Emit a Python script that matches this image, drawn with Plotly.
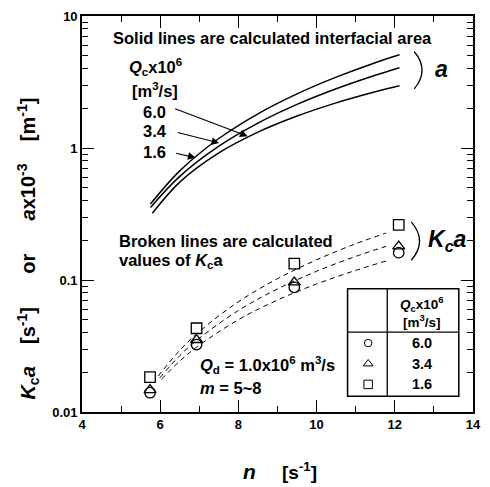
import plotly.graph_objects as go

# ---------------- data ----------------
# solid lines: calculated interfacial area a x10^-3 [m^-1]  (Qc = 1.6, 3.4, 6.0 x10^-6 m3/s)
a_x = [5.75, 6.5, 7.5, 8.5, 9.5, 10.5, 11.5, 12.12]
a_y_16 = [0.376, 0.671, 1.180, 1.816, 2.57, 3.44, 4.43, 5.08]
a_y_34 = [0.354, 0.610, 1.033, 1.545, 2.14, 2.81, 3.56, 4.06]
a_x_60 = [5.8, 6.5, 7.5, 8.5, 9.5, 10.5, 11.5, 12.12]
a_y_60 = [0.320, 0.551, 0.917, 1.318, 1.746, 2.198, 2.667, 2.965]

# broken lines: calculated Kc a
k_x_16 = [5.95, 6.5, 7.0, 8.0, 9.0, 10.0, 11.0, 11.78]
k_y_16 = [0.0187, 0.0293, 0.0407, 0.0684, 0.1023, 0.1422, 0.188, 0.227]
k_x_34 = [5.99, 6.5, 7.0, 8.0, 9.0, 10.0, 11.0, 11.78]
k_y_34 = [0.01815, 0.0267, 0.0362, 0.0587, 0.0855, 0.1164, 0.151, 0.180]
k_x_60 = [6.03, 6.5, 7.0, 8.0, 9.0, 10.0, 11.0, 11.78]
k_y_60 = [0.01766, 0.0243, 0.0321, 0.0500, 0.0705, 0.0933, 0.1183, 0.1393]

# measured Kc a
n_meas = [5.74, 6.93, 9.43, 12.1]
kca_16 = [0.0184, 0.0431, 0.133, 0.262]   # square
kca_34 = [0.0147, 0.0352, 0.096, 0.180]   # triangle
kca_60 = [0.0140, 0.0324, 0.088, 0.161]   # circle

x_ticks = [4, 6, 8, 10, 12, 14]
y_ticks = [0.01, 0.1, 1, 10]
y_ticktext = ["0.01", "0.1", "1", "10"]
legend_labels = ["6.0", "3.4", "1.6"]

# ---------------- geometry helpers ----------------
W, H = 490, 487
L, R, T, B = 82, 9, 10, 75
PW, PH = W - L - R, H - T - B


def xp(px):
    return (px - L) / PW


def yp(py):
    return (H - B - py) / PH


def dx(px):
    return 4 + (px - L) / PW * 10


def dy(py):
    return 10 ** (1 - (py - T) / PH * 3)


FONT = "Liberation Sans, Arial, sans-serif"
NB = "&nbsp;"
fig = go.Figure()

for xs, ys in [(a_x, a_y_16), (a_x, a_y_34), (a_x_60, a_y_60)]:
    fig.add_trace(go.Scatter(x=xs, y=ys, mode="lines", line=dict(color="black", width=1.5, shape="spline"),
                             showlegend=False, hoverinfo="skip"))
for xs, ys in [(k_x_16, k_y_16), (k_x_34, k_y_34), (k_x_60, k_y_60)]:
    fig.add_trace(go.Scatter(x=xs, y=ys, mode="lines",
                             line=dict(color="black", width=1, dash="5px,4px", shape="spline"),
                             showlegend=False, hoverinfo="skip"))

for ys, sym in [(kca_60, "circle-open"), (kca_34, "triangle-up-open"), (kca_16, "square-open")]:
    fig.add_trace(go.Scatter(x=n_meas, y=ys, mode="markers",
                             marker=dict(symbol=sym, size=10.5, color="black", line=dict(width=1.3, color="black")),
                             showlegend=False))

# legend keys inside table
for py, sym, sz in [(342, "circle-open", 7.5), (363, "triangle-up-open", 8.5), (384, "square-open", 8.5)]:
    fig.add_trace(go.Scatter(x=[dx(374)], y=[dy(py)], mode="markers",
                             marker=dict(symbol=sym, size=sz, color="black", line=dict(width=1, color="black")),
                             showlegend=False, hoverinfo="skip"))

ann = []


def txt(px, py, text, size=16.5, xanchor="center", italic=False, angle=0):
    ann.append(dict(x=xp(px), y=yp(py), xref="paper", yref="paper", text=text, showarrow=False,
                    xanchor=xanchor, yanchor="middle", textangle=angle,
                    font=dict(family=FONT, size=size, color="black", weight="bold",
                              style="italic" if italic else "normal")))


txt(112, 32, "Solid lines are calculated interfacial area", xanchor="left")
txt(157, 62, "<i>Q</i><sub>c</sub>x10<sup>6</sup>")
txt(157, 85, "[m<sup>3</sup>/s]")
txt(156, 107, "6.0")
txt(156, 127, "3.4")
txt(156, 148, "1.6")
txt(449, 64, "a", size=23, italic=True)
txt(118, 238, "Broken lines are calculated", xanchor="left")
txt(118, 259, "values of <i>K</i><sub>c</sub>a", xanchor="left")
txt(433, 238, "<i>K<sub>c</sub>a</i>", size=23, xanchor="left")
txt(200, 364, "<i>Q</i><sub>d</sub> = 1.0x10<sup>6</sup> m<sup>3</sup>/s", xanchor="left")
txt(200, 388, "<i>m</i> = 5~8", xanchor="left")
txt(429, 302, "<i>Q</i><sub>c</sub>x10<sup>6</sup>", size=13.5)
txt(429, 320, "[m<sup>3</sup>/s]", size=13.5)
for py, lab in zip([342, 363, 384], legend_labels):
    txt(429, py, lab, size=14.5)

# axis titles
txt(253, 472, "<i>n</i>", size=21)
txt(304, 472, "[s<sup>-1</sup>]", size=19)
txt(27, 246, "<i>K</i><sub>c</sub><i>a</i>" + NB * 4 + "[s<sup>-1</sup>]" + NB * 6 + "or" + NB * 6
    + "<i>a</i>x10<sup>-3</sup>" + NB * 4 + "[m<sup>-1</sup>]", size=20, angle=-90)

# arrows
for (tx, ty), (hx, hy) in [((177, 104), (251, 132)), ((179, 128), (222, 139)), ((177, 149), (198, 154))]:
    ann.append(dict(x=xp(hx), y=yp(hy), xref="paper", yref="paper", ax=tx - hx, ay=ty - hy,
                    axref="pixel", ayref="pixel", text="", showarrow=True, arrowhead=2,
                    arrowsize=1.4, arrowwidth=1.1, arrowcolor="black"))

shapes = []


def bracket(px0, py0, py1, bulge):
    mid = (py0 + py1) / 2
    shapes.append(dict(type="path", xref="paper", yref="paper",
                       path=f"M {xp(px0)},{yp(py0)} Q {xp(px0 + bulge)},{yp(mid)} {xp(px0)},{yp(py1)}",
                       line=dict(color="black", width=1.3)))


bracket(421, 46, 84, 16)
bracket(418, 219, 258, 17)

# table
shapes.append(dict(type="rect", xref="paper", yref="paper", x0=xp(353), x1=xp(466.5), y0=yp(287), y1=yp(396),
                   line=dict(color="black", width=1.5), fillcolor="white", layer="below"))
shapes.append(dict(type="line", xref="paper", yref="paper", x0=xp(393.5), x1=xp(393.5), y0=yp(287), y1=yp(396),
                   line=dict(color="black", width=1.3)))
shapes.append(dict(type="line", xref="paper", yref="paper", x0=xp(353), x1=xp(466.5), y0=yp(331), y1=yp(331),
                   line=dict(color="black", width=1.3)))

y_minor = [m * 10 ** e for e in (-2, -1, 0) for m in range(2, 10)]

fig.update_layout(
    width=W, height=H, margin=dict(l=L, r=R, t=T, b=B),
    paper_bgcolor="white", plot_bgcolor="white",
    annotations=ann, shapes=shapes,
    xaxis=dict(range=[4, 14], tickvals=x_ticks, ticks="inside", ticklen=12, tickwidth=1.3, tickcolor="black",
               showline=True, linecolor="black", linewidth=1.6, mirror="ticks", showgrid=False, zeroline=False,
               tickfont=dict(family=FONT, size=13, color="black", weight="bold"),
               minor=dict(tickvals=[5, 7, 9, 11, 13], ticks="inside", ticklen=6, tickwidth=1.2,
                          tickcolor="black", showgrid=False)),
    yaxis=dict(type="log", range=[-2, 1], tickvals=y_ticks, ticktext=y_ticktext, ticks="inside", ticklen=12,
               tickwidth=1.3, tickcolor="black", showline=True, linecolor="black", linewidth=1.6, mirror="ticks",
               showgrid=False, zeroline=False,
               tickfont=dict(family=FONT, size=13, color="black", weight="bold"),
               minor=dict(tickvals=y_minor, ticks="inside", ticklen=6, tickwidth=1.2, tickcolor="black",
                          showgrid=False)),
)

fig.write_html("out.html")
